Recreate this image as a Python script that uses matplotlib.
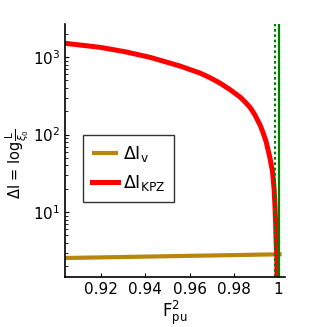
import matplotlib
matplotlib.use("Agg")
import matplotlib.pyplot as plt
import numpy as np

plt.rcParams['font.family'] = ['DejaVu Sans']
plt.rcParams['mathtext.fontset'] = 'dejavusans'

# Data
kpz_x = [0.9039, 0.9197, 0.9309, 0.9422, 0.9557, 0.9647, 0.9692, 0.9737,
         0.9782, 0.9828, 0.9850, 0.9873, 0.9895, 0.9918, 0.9931, 0.9945,
         0.9953, 0.9962, 0.9974, 0.9981, 0.9985, 0.9988, 0.9990, 0.9993,
         0.9994]
kpz_y = [1503, 1334, 1171, 991, 765, 621, 541, 461,
         380, 304, 264, 223, 178, 132, 106, 80.9,
         64.7, 50.4, 32.7, 19.7, 11.6, 7.16, 4.33, 2.63,
         1.45]
v_x = [0.9039, 1.0015]
v_y = [2.55, 2.85]
vline_dotted = 0.9985
vline_solid = 1.0003
xticks = [0.92, 0.94, 0.96, 0.98, 1.0]
xticklabels = ['0.92', '0.94', '0.96', '0.98', '1']

fig = plt.figure(figsize=(3.16, 3.27), dpi=100)
ax = fig.add_axes([0.2057, 0.1529, 0.6962, 0.7737])

ax.plot(v_x, v_y, color='#b8860b', lw=3.0, label=r'$\Delta\mathregular{I_v}$', solid_capstyle='butt')
ax.plot(kpz_x, kpz_y, color='#ff0000', lw=3.6, label=r'$\Delta\mathregular{I_{KPZ}}$',
        solid_joinstyle='round')
ax.axvline(vline_dotted, color='#008000', lw=1.6, ls=(0, (1.2, 1.2)))
ax.axvline(vline_solid, color='#008000', lw=1.6)

ax.set_yscale('log')
ax.set_xlim(0.9039, 1.0030)
ax.set_ylim(1.45, 2667)
ax.set_xticks(xticks)
ax.set_xticklabels(xticklabels)

for s in ['top', 'right']:
    ax.spines[s].set_visible(False)
ax.spines['left'].set_linewidth(1.2)
ax.spines['bottom'].set_linewidth(1.2)
ax.tick_params(direction='in', labelsize=11, length=3, width=0.8)
ax.tick_params(which='minor', direction='in', length=2, width=0.6)

ax.set_xlabel(r'$\mathregular{F_{pu}^2}$', fontsize=12, labelpad=1)
ax.set_ylabel(r'$\Delta$I = log$\frac{\mathregular{L}}{\xi_0}$', fontsize=10.5)
ax.yaxis.set_label_coords(-0.155, 0.45)

leg = ax.legend(loc='upper left', bbox_to_anchor=(0.082, 0.561), borderaxespad=0,
                fontsize=12.5, frameon=True, fancybox=False, handlelength=1.5,
                handletextpad=0.3, borderpad=0.5, labelspacing=0.55)
leg.get_frame().set_edgecolor('black')
leg.get_frame().set_linewidth(1.0)

fig.savefig('out.png', dpi=100)
